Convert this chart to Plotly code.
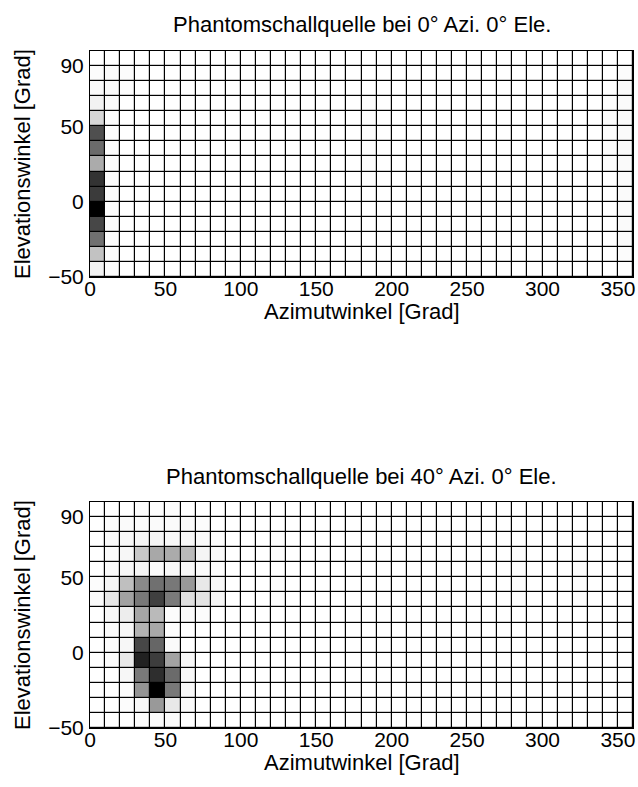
import plotly.graph_objects as go

# ---------------- data ----------------
# cell edges (degrees)
azimuth_edges = [0, 10, 20, 30, 40, 50, 60, 70, 80, 90, 100, 110, 120, 130, 140, 150, 160, 170, 180,
                 190, 200, 210, 220, 230, 240, 250, 260, 270, 280, 290, 300, 310, 320, 330, 340, 350, 360]
elevation_edges = [-50, -40, -30, -20, -10, 0, 10, 20, 30, 40, 50, 60, 70, 80, 90, 100]

x_ticks = [0, 50, 100, 150, 200, 250, 300, 350]
y_ticks = [-50, 0, 50, 90]

titles = ["Phantomschallquelle bei 0° Azi. 0° Ele.",
          "Phantomschallquelle bei 40° Azi. 0° Ele."]
x_label = "Azimutwinkel [Grad]"
y_label = "Elevationswinkel [Grad]"

# darkness (0 = white, 100 = black), rows from -50 (bottom) to 90 (top), 36 azimuth columns
level_az0 = [
    [5, 1, 0, 0, 0, 0, 0, 0, 0, 0,  0, 0, 0, 0, 0, 0, 0, 0, 0, 0,  0, 0, 0, 0, 0, 0, 0, 0, 0, 0,  0, 0, 0, 0, 0, 0],
    [24, 1, 0, 0, 0, 0, 0, 0, 0, 0,  0, 0, 0, 0, 0, 0, 0, 0, 0, 0,  0, 0, 0, 0, 0, 0, 0, 0, 0, 0,  0, 0, 0, 0, 0, 1],
    [56, 1, 0, 0, 0, 0, 0, 0, 0, 0,  0, 0, 0, 0, 0, 0, 0, 0, 0, 0,  0, 0, 0, 0, 0, 0, 0, 0, 0, 0,  0, 0, 0, 0, 0, 2],
    [72, 1, 0, 0, 0, 0, 0, 0, 0, 0,  0, 0, 0, 0, 0, 0, 0, 0, 0, 0,  0, 0, 0, 0, 0, 0, 0, 0, 0, 0,  0, 0, 0, 0, 0, 2],
    [100, 1, 0, 0, 0, 0, 0, 0, 0, 0,  0, 0, 0, 0, 0, 0, 0, 0, 0, 0,  0, 0, 0, 0, 0, 0, 0, 0, 0, 0,  0, 0, 0, 0, 0, 2],
    [77, 1, 0, 0, 0, 0, 0, 0, 0, 0,  0, 0, 0, 0, 0, 0, 0, 0, 0, 0,  0, 0, 0, 0, 0, 0, 0, 0, 0, 0,  0, 0, 0, 0, 0, 2],
    [80, 1, 0, 0, 0, 0, 0, 0, 0, 0,  0, 0, 0, 0, 0, 0, 0, 0, 1, 0,  0, 0, 0, 0, 0, 0, 0, 0, 0, 0,  0, 0, 0, 0, 0, 2],
    [33, 1, 0, 0, 0, 0, 0, 0, 0, 0,  0, 0, 0, 0, 0, 0, 0, 0, 1, 0,  0, 0, 0, 0, 0, 0, 0, 0, 0, 0,  0, 0, 0, 0, 1, 2],
    [58, 1, 0, 0, 0, 0, 0, 0, 0, 0,  0, 0, 0, 0, 0, 0, 0, 0, 1, 0,  0, 0, 0, 0, 0, 0, 0, 0, 0, 0,  0, 0, 0, 0, 1, 2],
    [69, 1, 0, 0, 0, 0, 0, 0, 0, 0,  0, 0, 0, 0, 0, 0, 0, 0, 1, 0,  0, 0, 0, 0, 0, 0, 0, 0, 0, 0,  0, 0, 0, 0, 1, 2],
    [16, 1, 0, 0, 0, 0, 0, 0, 0, 0,  0, 0, 0, 0, 0, 0, 0, 0, 1, 0,  0, 0, 0, 0, 0, 0, 0, 0, 0, 0,  0, 0, 0, 0, 1, 2],
    [5, 2, 0, 0, 0, 0, 0, 0, 0, 0,  0, 0, 0, 0, 0, 0, 0, 0, 1, 0,  0, 0, 0, 0, 0, 0, 0, 0, 0, 0,  0, 0, 0, 0, 1, 2],
    [2, 2, 1, 0, 0, 0, 0, 0, 0, 0,  0, 0, 0, 0, 0, 0, 0, 0, 0, 0,  0, 0, 0, 0, 0, 0, 0, 0, 0, 0,  0, 0, 0, 0, 0, 2],
    [1, 2, 1, 0, 0, 0, 0, 0, 0, 0,  0, 0, 0, 0, 0, 0, 0, 0, 0, 0,  0, 0, 0, 0, 0, 0, 0, 0, 0, 0,  0, 0, 0, 0, 0, 1],
    [0, 0, 0, 0, 0, 0, 0, 0, 0, 0,  0, 0, 0, 0, 0, 0, 0, 0, 0, 0,  0, 0, 0, 0, 0, 0, 0, 0, 0, 0,  0, 0, 0, 0, 0, 0],
]

level_az40 = [
    [0, 0, 0, 1, 2, 2, 0, 0, 0, 0,  0, 0, 0, 0, 0, 0, 0, 0, 0, 0,  0, 0, 0, 0, 0, 0, 0, 0, 0, 0,  0, 0, 0, 0, 0, 0],
    [0, 0, 1, 3, 40, 9, 2, 0, 0, 0,  0, 0, 0, 0, 0, 0, 0, 0, 0, 0,  0, 0, 0, 0, 0, 0, 0, 0, 0, 0,  0, 0, 0, 0, 0, 0],
    [0, 0, 1, 42, 100, 53, 3, 0, 0, 0,  0, 0, 0, 0, 0, 0, 0, 0, 0, 0,  0, 0, 0, 0, 0, 0, 0, 0, 0, 0,  0, 0, 0, 0, 0, 0],
    [0, 0, 3, 52, 82, 58, 3, 0, 0, 0,  0, 0, 0, 0, 0, 0, 0, 0, 0, 0,  0, 0, 0, 0, 0, 0, 0, 0, 0, 0,  0, 0, 0, 0, 0, 0],
    [0, 1, 9, 87, 76, 36, 3, 0, 0, 0,  0, 0, 0, 0, 0, 0, 0, 0, 0, 0,  0, 0, 0, 0, 0, 0, 0, 0, 0, 0,  0, 0, 0, 0, 0, 0],
    [0, 1, 3, 72, 60, 2, 0, 0, 0, 0,  0, 0, 0, 0, 0, 0, 0, 0, 0, 0,  0, 0, 0, 0, 0, 0, 0, 0, 0, 0,  0, 0, 0, 0, 0, 0],
    [0, 2, 3, 30, 34, 1, 0, 0, 0, 0,  0, 0, 0, 0, 0, 0, 0, 0, 0, 0,  0, 0, 0, 0, 0, 0, 0, 0, 0, 0,  0, 0, 0, 0, 0, 0],
    [0, 3, 7, 35, 27, 1, 2, 1, 0, 0,  0, 0, 0, 0, 0, 0, 0, 0, 0, 0,  0, 0, 0, 0, 0, 0, 0, 0, 0, 0,  0, 0, 0, 0, 0, 0],
    [2, 10, 37, 53, 75, 52, 13, 11, 4, 0,  0, 0, 1, 0, 0, 0, 0, 0, 0, 0,  0, 0, 0, 0, 0, 0, 0, 0, 1, 0,  0, 0, 1, 0, 0, 0],
    [1, 4, 25, 46, 56, 53, 40, 9, 3, 0,  0, 0, 1, 0, 0, 0, 0, 0, 0, 0,  0, 0, 0, 0, 0, 0, 0, 0, 1, 0,  0, 0, 1, 0, 0, 0],
    [0, 2, 3, 4, 2, 3, 3, 2, 1, 0,  0, 0, 0, 0, 0, 0, 0, 0, 0, 0,  0, 0, 0, 0, 0, 0, 0, 0, 1, 0,  0, 0, 1, 0, 0, 0],
    [0, 2, 3, 22, 34, 33, 27, 4, 2, 0,  0, 0, 1, 0, 0, 0, 0, 0, 0, 0,  0, 0, 0, 0, 0, 0, 0, 0, 1, 0,  0, 0, 1, 0, 0, 0],
    [0, 2, 3, 4, 4, 3, 3, 2, 1, 0,  0, 0, 1, 0, 0, 0, 0, 0, 0, 0,  0, 0, 0, 0, 0, 0, 0, 0, 0, 0,  0, 0, 0, 0, 0, 0],
    [0, 1, 2, 2, 2, 2, 2, 1, 0, 0,  0, 0, 0, 0, 0, 0, 0, 0, 0, 0,  0, 0, 0, 0, 0, 0, 0, 0, 0, 0,  0, 0, 0, 0, 0, 0],
    [0, 0, 0, 1, 1, 1, 0, 0, 0, 0,  0, 0, 0, 0, 0, 0, 0, 0, 0, 0,  0, 0, 0, 0, 0, 0, 0, 0, 0, 0,  0, 0, 0, 0, 0, 0],
]

# ---------------- figure ----------------
W, H = 638, 787
FONT = "Liberation Sans, Arial, Helvetica, sans-serif"

# plot areas in pixels: (left, right, top, bottom)
panels = [(90, 633, 51, 277), (90, 633, 502, 728)]

fig = go.Figure()
gray = [[0.0, "#ffffff"], [1.0, "#000000"]]

for i, z in enumerate([level_az0, level_az40]):
    sfx = "" if i == 0 else "2"
    fig.add_trace(go.Heatmap(
        x=azimuth_edges, y=elevation_edges, z=z,
        colorscale=gray, zmin=0, zmax=100, showscale=False,
        xgap=1.2, ygap=1.2, hoverinfo="skip",
        xaxis="x" + sfx, yaxis="y" + sfx,
    ))

layout = dict(
    width=W, height=H,
    margin=dict(l=0, r=0, t=0, b=0, autoexpand=False),
    paper_bgcolor="white",
    plot_bgcolor="black",
    showlegend=False,
    font=dict(family=FONT, size=21, color="black"),
    annotations=[],
)

for i, (l, r, t, b) in enumerate(panels):
    sfx = "" if i == 0 else str(i + 1)
    xdom = [l / W, r / W]
    ydom = [1 - b / H, 1 - t / H]
    layout["xaxis" + sfx] = dict(
        domain=xdom, range=[0, 360], anchor="y" + sfx, automargin=False,
        tickvals=x_ticks, ticks="", showgrid=False, zeroline=False,
        showline=True, mirror=True, linecolor="black", linewidth=1,
        tickfont=dict(family=FONT, size=21, color="black"),
        ticklabelstandoff=-7, fixedrange=True,
    )
    layout["yaxis" + sfx] = dict(
        domain=ydom, range=[-50, 100], anchor="x" + sfx, automargin=False,
        tickvals=y_ticks, ticks="", showgrid=False, zeroline=False,
        showline=True, mirror=True, linecolor="black", linewidth=1,
        tickfont=dict(family=FONT, size=21, color="black"),
        ticklabelstandoff=1, fixedrange=True,
    )
    cx = (l + r) / 2 / W
    # title
    layout["annotations"].append(dict(
        text=titles[i], x=cx, y=1 - (t - 26) / H, xref="paper", yref="paper",
        xanchor="center", yanchor="middle", showarrow=False,
        font=dict(family=FONT, size=22, color="black"),
    ))
    # x label
    layout["annotations"].append(dict(
        text=x_label, x=cx, y=1 - (b + 34) / H, xref="paper", yref="paper",
        xanchor="center", yanchor="middle", showarrow=False,
        font=dict(family=FONT, size=22, color="black"),
    ))
    # y label
    layout["annotations"].append(dict(
        text=y_label, x=22 / W, y=1 - (t + b) / 2 / H, xref="paper", yref="paper",
        xanchor="center", yanchor="middle", textangle=-90, showarrow=False,
        font=dict(family=FONT, size=22, color="black"),
    ))

fig.update_layout(**layout)
fig.write_html(
    "out.html",
    config={"displayModeBar": False},
    post_script="document.body.style.margin='0px';document.body.style.padding='0px';",
)
